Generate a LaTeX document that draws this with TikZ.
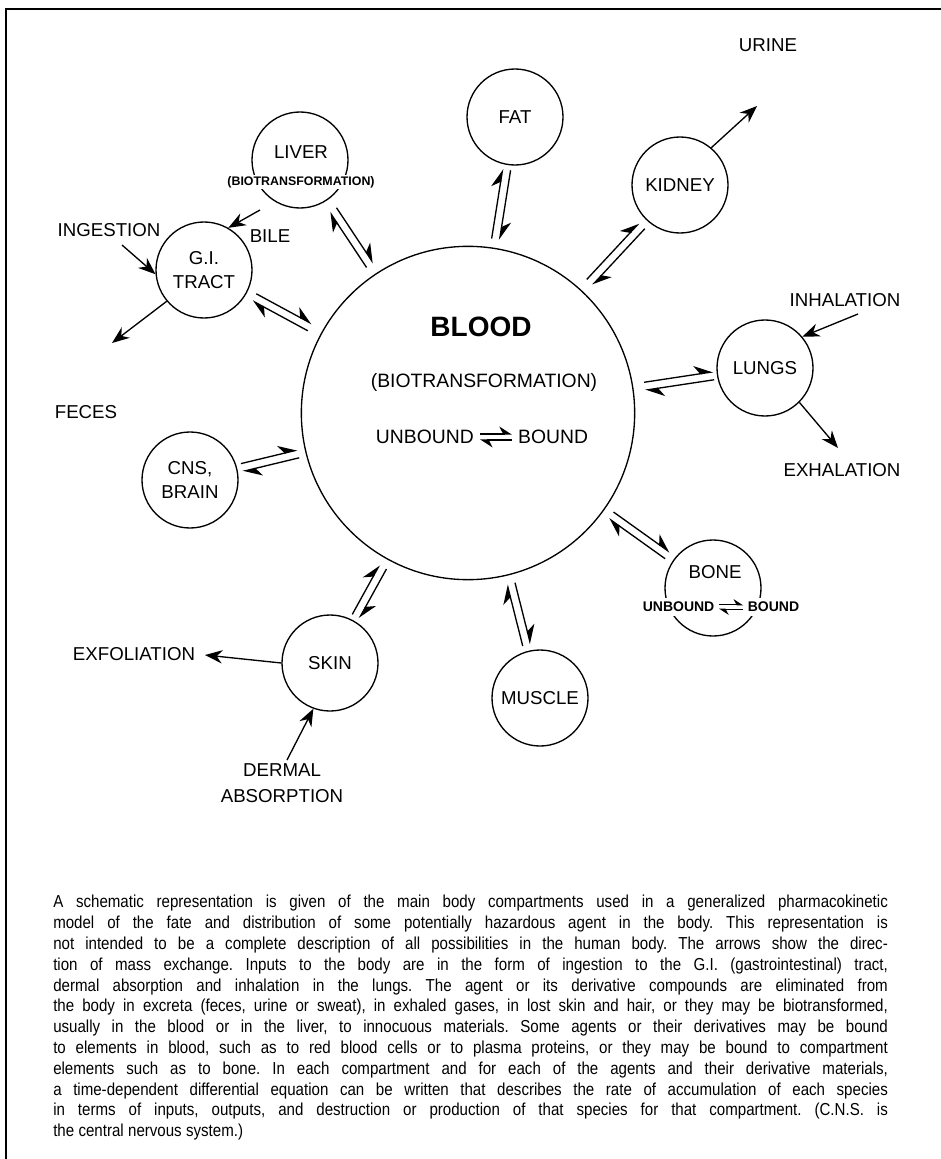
\documentclass[tikz,border=0pt]{standalone}
\usepackage{fontspec}
\setmainfont{Liberation Sans}
\newfontfamily\capfont{Liberation Sans}[FakeStretch=0.87]
\usetikzlibrary{arrows.meta,calc}
\newcommand{\pkcompartment}[3] {\node at (#1) (#2) [circle, draw, line width=1pt, minimum size=72pt, align=center, font=\fontsize{14}{18}\selectfont] {#3};}
\newcommand{\pklabel}[3] {\node at (#1) (#2) [align=center, font=\fontsize{14}{19}\selectfont] {#3};}
\newcommand{\pkexchange}[4] {\draw [line width=1pt, -{Stealth[harpoon,length=13pt,width=13pt]}] ($(#1)!#3!(#2)!3pt!90:(#2)$) -- ($(#2)!#4!(#1)!3pt!-90:(#1)$); \draw [line width=1pt, -{Stealth[harpoon,length=13pt,width=13pt]}] ($(#2)!#4!(#1)!3pt!90:(#1)$) -- ($(#1)!#3!(#2)!3pt!-90:(#2)$);}
\newcommand{\pkflow}[2] {\draw [line width=1pt, -{Stealth[length=13pt,width=10pt]}] (#1) -- (#2);}
\newcommand{\pkbind}[1] {\tikz[baseline=-0.6ex] {\draw [line width=1.3pt, -{Stealth[harpoon,length=#1*0.35,width=#1*0.45]}] (0pt,#1*0.1) -- (#1,#1*0.1); \draw [line width=1.3pt, -{Stealth[harpoon,length=#1*0.35,width=#1*0.45]}] (#1,-#1*0.1) -- (0pt,-#1*0.1);}}
\newcommand{\pkcapfont}{\capfont\fontsize{13}{15.6}\selectfont\frenchspacing\spaceskip=0.25em plus 0.3em minus 0.13em\relax}

\begin{document}
\begin{tikzpicture}[x=0.75pt,y=-0.75pt]
\useasboundingbox (0,0) rectangle (941,1159);
\draw [line width=1pt] (941,9) -- (6,9) -- (6,1159);

% blood in the middle
\node at (468,413) (blood) [circle, draw, line width=1pt, minimum size=250pt] {};
\node at (481,327) (bloodname) [font=\bfseries\fontsize{21}{24}\selectfont] {BLOOD};
\node at (484,382) (bloodbio) [font=\fontsize{14.5}{18}\selectfont] {(BIOTRANSFORMATION)};
\node at (482,437) (bloodbind) [font=\fontsize{14.5}{18}\selectfont] {UNBOUND \pkbind{24pt} BOUND};

\pkcompartment {515,117} {fat} {FAT};
\pkcompartment {300,160} {liver} {};
\node at (301,152) (livername) [font=\fontsize{14}{18}\selectfont] {LIVER};
\node at (301,182) (liverbio) [fill=white, inner sep=1pt, font=\bfseries\fontsize{9.3}{11}\selectfont] {(BIOTRANSFORMATION)};
\pkcompartment {680,185} {kidney} {KIDNEY};
\pkcompartment {204,270} {gi} {G.I.\\TRACT};
\pkcompartment {765,368} {lungs} {LUNGS};
\pkcompartment {190,480} {cns} {CNS,\\BRAIN};
\pkcompartment {713,588} {bone} {};
\node at (715,572) (bonename) [font=\fontsize{14}{18}\selectfont] {BONE};
\node at (721,607) (bonebind) [fill=white, inner sep=1pt, font=\bfseries\fontsize{10.5}{12}\selectfont] {UNBOUND \pkbind{18pt} BOUND};
\pkcompartment {330,663} {skin} {SKIN};
\pkcompartment {540,698} {muscle} {MUSCLE};

\pkexchange{blood}{fat}{132pt}{40pt};
\pkexchange{blood}{liver}{133pt}{45pt};
\pkexchange{blood}{kidney}{134pt}{42pt};
\pkexchange{blood}{gi}{135pt}{43pt};
\pkexchange{blood}{lungs}{134pt}{39pt};
\pkexchange{blood}{cns}{131pt}{40pt};
\pkexchange{blood}{bone}{132pt}{42pt};
\pkexchange{blood}{skin}{132pt}{40pt};
\pkexchange{blood}{muscle}{132pt}{41pt};

% inputs and outputs
\pklabel {768,45} {urine} {URINE};
\pklabel {109,230} {ingestion} {INGESTION};
\pklabel {270,236} {bile} {BILE};
\pklabel {86,412} {feces} {FECES};
\pklabel {845,300} {inhalation} {INHALATION};
\pklabel {842,470} {exhalation} {EXHALATION};
\pklabel {134,654} {exfoliation} {EXFOLIATION};
\pklabel {282,783} {dermal} {DERMAL\\ABSORPTION};

\coordinate (urinetip) at (757,106);
\coordinate (ingtail) at (122,245);
\coordinate (biletail) at (260,210);
\coordinate (fecestip) at (112,343);
\coordinate (inhtail) at (858,314);
\coordinate (exhtip) at (838,448);
\coordinate (exftip) at (205,655);
\coordinate (dermtail) at (287,760);

\pkflow{kidney.50}{urinetip};
\pkflow{ingtail}{gi.185};
\pkflow{biletail}{gi.60};
\pkflow{gi.220}{fecestip};
\pkflow{inhtail}{lungs.40};
\pkflow{lungs.-45}{exhtip};
\pkflow{skin.180}{exftip};
\pkflow{dermtail}{skin.-110};

\node at (53,895) (caption) [anchor=north west, inner sep=0pt, text width=626pt, align=justify, font=\pkcapfont] {A schematic representation is given of the main body compartments used in a generalized pharmacokinetic\linebreak
model of the fate and distribution of some potentially hazardous agent in the body. This representation is\linebreak
not intended to be a complete description of all possibilities in the human body. The arrows show the direc-\linebreak
tion of mass exchange. Inputs to the body are in the form of ingestion to the G.I. (gastrointestinal) tract,\linebreak
dermal absorption and inhalation in the lungs. The agent or its derivative compounds are eliminated from\linebreak
the body in excreta (feces, urine or sweat), in exhaled gases, in lost skin and hair, or they may be biotransformed,\linebreak
usually in the blood or in the liver, to innocuous materials. Some agents or their derivatives may be bound\linebreak
to elements in blood, such as to red blood cells or to plasma proteins, or they may be bound to compartment\linebreak
elements such as to bone. In each compartment and for each of the agents and their derivative materials,\linebreak
a time-dependent differential equation can be written that describes the rate of accumulation of each species\linebreak
in terms of inputs, outputs, and destruction or production of that species for that compartment. (C.N.S. is\linebreak
the central nervous system.)};
\end{tikzpicture}
\end{document}
